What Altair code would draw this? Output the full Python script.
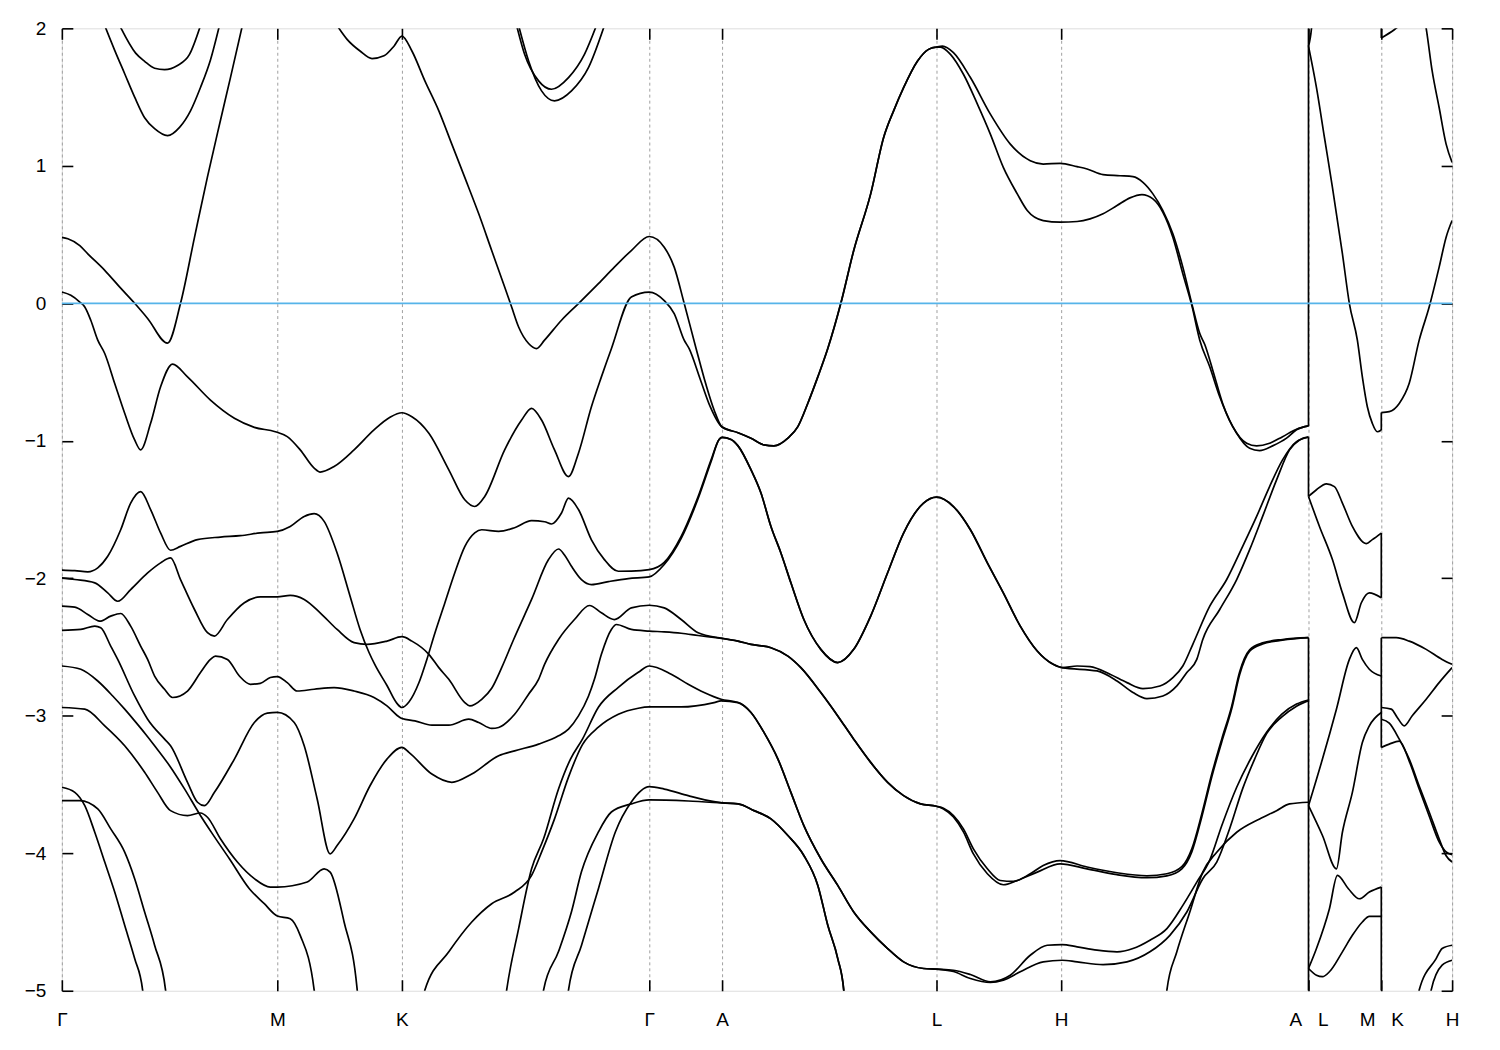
import altair as alt
import pandas as pd

# ---------------- axis data ----------------
K_TICKS = [0, 216, 341, 589, 662, 877, 1002, 1250, 1323, 1394]
K_LABELS = ["Γ", "M", "K", "Γ", "A", "L", "H", "A\u00a0\u00a0\u00a0L", "M\u00a0\u00a0\u00a0K", "H"]
E_TICKS = [2, 1, 0, -1, -2, -3, -4, -5]
K_MAX = 1394

# ---------------- band data (k along path, energy in eV) ----------------
U1 = [(58, 2.02), (74, 1.82), (83, 1.76), (93, 1.71), (103, 1.70), (116, 1.73), (128, 1.81), (139, 2.02)]
U2 = [(43, 2.02), (53, 1.84), (63, 1.67), (73, 1.50), (83, 1.35), (93, 1.27), (106, 1.22), (118, 1.28),
      (129, 1.40), (139, 1.57), (149, 1.77), (158, 2.02)]
V1 = [(0, 0.48), (6, 0.47), (18, 0.42), (26, 0.36), (43, 0.24), (59, 0.11), (73, 0.0), (86, -0.11),
      (106, -0.29), (119, 0.0), (133, 0.48), (146, 0.92), (159, 1.33), (169, 1.64), (181, 2.02)]
UA = [(456, 2.02), (464, 1.811), (478, 1.618), (491, 1.557), (508, 1.642), (524, 1.811), (536, 2.02)]
UB = [(458, 2.02), (468, 1.763), (481, 1.545), (494, 1.473), (511, 1.545), (528, 1.714), (544, 2.02)]

KTOP_MKG = [(276, 2.02), (286, 1.92), (299, 1.835), (311, 1.78), (323, 1.80), (333, 1.87), (341, 1.944),
            (351, 1.835), (364, 1.618), (378, 1.40), (391, 1.158), (404, 0.916), (418, 0.651), (431, 0.384),
            (444, 0.118), (451, -0.027), (458, -0.172), (468, -0.292), (476, -0.329), (484, -0.268),
            (501, -0.123), (518, -0.002), (538, 0.143), (554, 0.263), (571, 0.384), (589, 0.486),
            (604, 0.408), (614, 0.263), (624, 0.0), (636, -0.33), (646, -0.595), (654, -0.776), (662, -0.90)]
AL_UPPER = [(678, -0.941), (691, -0.981), (704, -1.03), (714, -1.037), (728, -0.981), (738, -0.897),
            (748, -0.727), (758, -0.535), (768, -0.329), (781, -0.002), (794, 0.384), (811, 0.796),
            (824, 1.206), (834, 1.40), (844, 1.569), (858, 1.763), (869, 1.847), (877, 1.864)]
LHA_UP1 = [(881, 1.864), (891, 1.811), (904, 1.666), (918, 1.449), (931, 1.231), (944, 0.989), (958, 0.796),
           (968, 0.675), (984, 0.602), (1001, 0.59), (1018, 0.595), (1031, 0.614), (1044, 0.651), (1058, 0.711),
           (1071, 0.767), (1083, 0.791), (1094, 0.759), (1104, 0.662), (1114, 0.481), (1124, 0.215),
           (1133, -0.015), (1141, -0.268), (1151, -0.462), (1161, -0.68), (1174, -0.897), (1188, -1.018),
           (1198, -1.037), (1211, -1.018), (1224, -0.97), (1238, -0.916), (1250, -0.892)]
W_GKGA = [(0, 0.082), (9, 0.058), (18, 0.009), (23, -0.027), (29, -0.123), (36, -0.268), (43, -0.365),
          (53, -0.583), (63, -0.80), (73, -0.994), (79, -1.066), (89, -0.873), (99, -0.607), (111, -0.442),
          (126, -0.535), (149, -0.704), (173, -0.836), (193, -0.902), (214, -0.934), (226, -0.97), (239, -1.066),
          (253, -1.199), (259, -1.228), (273, -1.187), (293, -1.066), (313, -0.921), (329, -0.829), (341, -0.796),
          (351, -0.825), (368, -0.945), (388, -1.211), (404, -1.429), (414, -1.478), (424, -1.405), (444, -1.066),
          (461, -0.849), (471, -0.764), (481, -0.849), (494, -1.066), (508, -1.26), (518, -1.09), (531, -0.752),
          (541, -0.535), (551, -0.33), (571, 0.046), (589, 0.082), (604, 0.02), (614, -0.075), (624, -0.268),
          (629, -0.33), (640, -0.55), (650, -0.75), (662, -0.90)]
LHA_UP2 = [(883, 1.871), (894, 1.823), (911, 1.642), (931, 1.376), (951, 1.158), (971, 1.037), (984, 1.013),
           (1001, 1.018), (1018, 0.994), (1028, 0.977), (1044, 0.936), (1061, 0.928), (1074, 0.921), (1084, 0.88),
           (1094, 0.796), (1104, 0.675), (1114, 0.506), (1124, 0.263), (1133, -0.002), (1141, -0.22),
           (1146, -0.30), (1154, -0.486), (1164, -0.73), (1178, -0.945), (1191, -1.054), (1201, -1.071),
           (1214, -1.037), (1228, -0.981), (1238, -0.92), (1250, -0.892)]

L1_GMK = [(0, -1.94), (13, -1.944), (26, -1.953), (36, -1.924), (46, -1.84), (59, -1.647), (69, -1.453),
          (79, -1.369), (89, -1.50), (99, -1.67), (109, -1.796), (119, -1.768), (136, -1.719), (159, -1.70),
          (179, -1.69), (199, -1.67), (216, -1.659), (229, -1.623), (243, -1.55), (253, -1.53), (263, -1.586),
          (276, -1.816), (289, -2.13), (299, -2.372), (308, -2.54), (314, -2.63), (326, -2.78), (336, -2.91),
          (341, -2.94)]
L1_KGA = [(348, -2.90), (358, -2.76), (366, -2.59), (374, -2.40), (384, -2.18), (394, -1.96), (404, -1.77),
          (414, -1.67), (421, -1.647), (438, -1.659), (454, -1.632), (471, -1.581), (484, -1.589), (491, -1.605),
          (501, -1.525), (508, -1.417), (518, -1.50), (531, -1.72), (544, -1.864), (558, -1.949), (571, -1.948),
          (589, -1.937), (604, -1.884), (621, -1.695), (638, -1.405), (651, -1.139), (659, -0.99), (662, -0.975)]
L2_GMK = [(0, -1.997), (13, -2.009), (33, -2.033), (46, -2.106), (56, -2.167), (69, -2.082), (86, -1.961),
          (99, -1.888), (109, -1.852), (119, -2.009), (133, -2.227), (146, -2.396), (153, -2.42), (166, -2.30),
          (183, -2.178), (199, -2.135), (216, -2.135), (229, -2.125), (243, -2.154), (259, -2.251), (276, -2.372),
          (293, -2.468), (306, -2.481), (326, -2.457), (341, -2.425)]
L2_KGA = [(351, -2.457), (368, -2.553), (378, -2.65), (388, -2.735), (404, -2.904), (409, -2.928), (421, -2.88),
          (431, -2.80), (441, -2.65), (453, -2.445), (471, -2.154), (488, -1.864), (498, -1.787), (504, -1.83),
          (511, -1.913), (521, -2.01), (531, -2.046), (548, -2.024), (568, -2.002), (589, -1.99),
          (604, -1.90), (621, -1.71), (638, -1.42), (651, -1.15), (659, -0.99), (662, -0.975)]
AL_MID = [(671, -0.99), (678, -1.037), (691, -1.211), (701, -1.38), (711, -1.623), (721, -1.816), (731, -2.033),
          (744, -2.30), (761, -2.517), (778, -2.613), (794, -2.517), (811, -2.275), (828, -1.96), (844, -1.671),
          (864, -1.453), (877, -1.41)]
LH_MID = [(894, -1.478), (911, -1.647), (928, -1.888), (944, -2.106), (961, -2.348), (978, -2.529),
          (994, -2.626), (1003, -2.65)]
HA_MID1 = [(1018, -2.638), (1031, -2.643), (1051, -2.698), (1068, -2.759), (1084, -2.802), (1101, -2.783),
           (1114, -2.722), (1124, -2.638), (1134, -2.48), (1151, -2.203), (1168, -2.009), (1184, -1.768),
           (1198, -1.55), (1211, -1.333), (1224, -1.139), (1238, -1.006), (1250, -0.974)]
HA_MID2 = [(1038, -2.674), (1058, -2.747), (1074, -2.831), (1088, -2.875), (1104, -2.856), (1118, -2.783),
           (1128, -2.686), (1138, -2.59), (1144, -2.445), (1161, -2.227), (1178, -2.009), (1191, -1.792),
           (1204, -1.55), (1218, -1.284), (1231, -1.066), (1241, -0.994), (1250, -0.972)]

L3_GMKGA = [(0, -2.203), (13, -2.21), (26, -2.263), (38, -2.312), (49, -2.275), (59, -2.256), (69, -2.348),
            (79, -2.493), (86, -2.59), (93, -2.711), (103, -2.807), (111, -2.867), (126, -2.82), (139, -2.686),
            (149, -2.59), (154, -2.566), (166, -2.59), (178, -2.711), (189, -2.771), (199, -2.764), (209, -2.722),
            (216, -2.715), (226, -2.759), (236, -2.82), (253, -2.807), (273, -2.795), (293, -2.82), (313, -2.867),
            (326, -2.928), (339, -3.012), (341, -3.02), (354, -3.037), (371, -3.068), (388, -3.068), (408, -3.025),
            (418, -3.049), (431, -3.092), (438, -3.085), (454, -2.989), (468, -2.843), (478, -2.735), (484, -2.626),
            (498, -2.445), (514, -2.30), (529, -2.198), (541, -2.251), (554, -2.30), (571, -2.215), (589, -2.196),
            (604, -2.215), (621, -2.30), (638, -2.396), (662, -2.437)]
C_GMKGA = [(0, -2.379), (19, -2.372), (33, -2.348), (39, -2.36), (49, -2.493), (56, -2.59), (73, -2.856),
           (86, -3.025), (103, -3.17), (109, -3.218), (126, -3.484), (136, -3.629), (143, -3.654), (153, -3.557),
           (173, -3.315), (193, -3.049), (206, -2.981), (216, -2.976), (233, -3.049), (243, -3.218), (256, -3.605),
           (269, -4.004), (276, -3.944), (293, -3.75), (309, -3.509), (326, -3.315), (341, -3.23), (348, -3.266),
           (371, -3.424), (391, -3.484), (411, -3.424), (438, -3.291), (454, -3.255), (478, -3.206), (498, -3.146),
           (508, -3.097), (518, -3.001), (528, -2.858), (534, -2.735), (541, -2.553), (551, -2.372), (556, -2.336),
           (571, -2.372), (589, -2.384), (604, -2.39), (621, -2.40), (638, -2.416), (662, -2.437)]
AL_L3 = [(678, -2.457), (691, -2.481), (711, -2.505), (728, -2.566), (741, -2.65), (761, -2.831), (778, -3.001),
         (794, -3.17), (811, -3.339), (828, -3.484), (844, -3.581), (861, -3.641), (877, -3.658)]
LH_A = [(884, -3.673), (894, -3.726), (904, -3.823), (914, -3.968), (928, -4.113), (941, -4.198), (954, -4.205),
        (971, -4.149), (984, -4.089), (1001, -4.053)]
LH_B = [(884, -3.678), (894, -3.736), (904, -3.845), (914, -4.005), (928, -4.149), (944, -4.229), (958, -4.198),
        (978, -4.137), (1001, -4.077)]
HA_A = [(1028, -4.10), (1058, -4.142), (1088, -4.164), (1108, -4.149), (1123, -4.098), (1133, -3.968),
        (1143, -3.714), (1153, -3.424), (1163, -3.17), (1173, -2.93), (1181, -2.68), (1191, -2.52), (1204, -2.47),
        (1224, -2.445), (1250, -2.432)]
HA_B = [(1028, -4.113), (1058, -4.156), (1088, -4.178), (1108, -4.164), (1123, -4.113), (1133, -3.99),
        (1143, -3.736), (1153, -3.445), (1163, -3.19), (1173, -2.95), (1181, -2.70), (1191, -2.53), (1204, -2.478),
        (1224, -2.45), (1250, -2.432)]

E_GM = [(0, -2.638), (19, -2.662), (36, -2.747), (51, -2.856), (63, -2.952), (73, -3.037), (84, -3.134),
        (93, -3.218), (108, -3.363), (123, -3.532), (138, -3.714), (151, -3.859), (168, -4.04), (188, -4.258),
        (203, -4.367), (216, -4.456), (229, -4.476), (239, -4.597), (253, -4.995), (256, -5.2)]
E_KGA = [(444, -5.1), (446, -4.995), (458, -4.548), (471, -4.113), (483, -3.895), (498, -3.532), (510, -3.315),
         (522, -3.17), (538, -2.938), (558, -2.793), (578, -2.684), (589, -2.638), (611, -2.698), (628, -2.771),
         (644, -2.831), (661, -2.88)]
F_GM = [(0, -2.94), (23, -2.952), (43, -3.073), (63, -3.218), (83, -3.411), (96, -3.557), (109, -3.69),
        (126, -3.726), (139, -3.707), (146, -3.738), (159, -3.895), (176, -4.064), (193, -4.185), (209, -4.246),
        (216, -4.246), (246, -4.209), (263, -4.113), (269, -4.137), (283, -4.50), (296, -4.983), (298, -5.15)]
F_KGA = [(362, -5.15), (364, -4.995), (388, -4.717), (411, -4.50), (431, -4.367), (454, -4.282), (471, -4.161),
         (481, -3.992), (494, -3.75), (508, -3.446), (522, -3.21), (538, -3.083), (558, -2.989), (578, -2.945),
         (589, -2.936), (621, -2.936), (654, -2.904), (661, -2.892)]
AL_E = [(678, -2.904), (691, -2.976), (704, -3.121), (718, -3.315), (731, -3.557), (744, -3.799), (761, -4.04),
        (778, -4.234), (794, -4.427), (811, -4.572), (828, -4.693), (844, -4.79), (864, -4.838), (877, -4.843)]
LH_C = [(894, -4.851), (911, -4.882), (931, -4.935), (951, -4.887), (971, -4.742), (988, -4.669), (1003, -4.664)]
LH_D = [(894, -4.86), (911, -4.911), (931, -4.94), (944, -4.923), (961, -4.862), (984, -4.79), (1003, -4.778)]
HA_C = [(1018, -4.681), (1038, -4.705), (1058, -4.717), (1074, -4.693), (1091, -4.632), (1108, -4.548),
        (1124, -4.379), (1138, -4.21), (1151, -4.05), (1163, -3.80), (1178, -3.52), (1193, -3.30), (1208, -3.12),
        (1223, -2.99), (1238, -2.915), (1250, -2.885)]
HA_D = [(1018, -4.79), (1044, -4.81), (1068, -4.79), (1091, -4.717), (1111, -4.597), (1128, -4.427),
        (1144, -4.185), (1158, -4.064), (1171, -3.82), (1184, -3.53), (1196, -3.315), (1208, -3.13), (1223, -3.01),
        (1238, -2.93), (1250, -2.89)]

G_GM = [(0, -3.52), (13, -3.557), (23, -3.654), (33, -3.847), (43, -4.064), (53, -4.282), (63, -4.524),
        (73, -4.766), (81, -4.995), (82, -5.1)]
G_KGA = [(507, -5.1), (508, -4.995), (521, -4.671), (538, -4.258), (555, -3.845), (571, -3.627), (589, -3.516),
         (604, -3.533), (628, -3.581), (654, -3.625), (662, -3.634)]
H_GM = [(0, -3.617), (18, -3.617), (36, -3.678), (49, -3.823), (63, -3.992), (73, -4.185), (83, -4.427),
        (93, -4.669), (104, -4.995), (105, -5.1)]
H_KGA = [(482, -5.1), (483, -4.995), (498, -4.715), (511, -4.425), (521, -4.135), (538, -3.845), (551, -3.70),
         (571, -3.641), (589, -3.612), (628, -3.62), (662, -3.634)]
AL_G = [(678, -3.641), (694, -3.69), (711, -3.75), (728, -3.871), (744, -4.016), (758, -4.234), (768, -4.524),
        (778, -4.766), (784, -4.995), (785, -5.1)]
HA_LOW = [(1107, -5.1), (1108, -4.995), (1118, -4.717), (1131, -4.427), (1144, -4.137), (1158, -3.992),
          (1178, -3.847), (1201, -3.75), (1218, -3.69), (1231, -3.641), (1250, -3.629)]

# L - M segment
LM1 = [(1250, 1.871), (1253, 2.0), (1254, 2.09)]
LM2 = [(1250, 1.871), (1258, 1.569), (1266, 1.206), (1274, 0.844), (1284, 0.361), (1291, -0.002), (1299, -0.268),
       (1304, -0.535), (1309, -0.752), (1314, -0.873), (1319, -0.934), (1323, -0.921)]
LM3 = [(1250, -1.405), (1258, -1.356), (1268, -1.313), (1276, -1.333), (1284, -1.453), (1294, -1.623),
       (1308, -1.748), (1314, -1.719), (1323, -1.671)]
LM4 = [(1250, -1.405), (1261, -1.623), (1274, -1.864), (1284, -2.106), (1296, -2.323), (1303, -2.178),
       (1311, -2.106), (1323, -2.142)]
LM5 = [(1250, -3.654), (1264, -3.315), (1278, -2.952), (1291, -2.59), (1298, -2.505), (1304, -2.59),
       (1311, -2.662), (1323, -2.711)]
LM6 = [(1250, -3.654), (1264, -3.871), (1278, -4.113), (1284, -3.847), (1294, -3.557), (1304, -3.194),
       (1311, -3.073), (1323, -2.976)]
LM7 = [(1250, -4.838), (1258, -4.693), (1271, -4.403), (1279, -4.161), (1290, -4.258), (1301, -4.331),
       (1311, -4.282), (1323, -4.246)]
LM8 = [(1250, -4.838), (1258, -4.887), (1264, -4.898), (1271, -4.862), (1284, -4.717), (1294, -4.597),
       (1304, -4.50), (1311, -4.459), (1323, -4.459)]

# K - H segment
KH1 = [(1323, 1.93), (1336, 1.99), (1343, 2.03)]
KH2 = [(1365, 2.12), (1368, 2.0), (1374, 1.69), (1381, 1.424), (1388, 1.158), (1394, 1.025)]
KH3 = [(1323, -0.795), (1331, -0.788), (1341, -0.728), (1351, -0.582), (1361, -0.268), (1371, -0.027),
       (1381, 0.263), (1388, 0.481), (1394, 0.602)]
KH4 = [(1323, -2.432), (1338, -2.432), (1351, -2.457), (1368, -2.517), (1384, -2.59), (1394, -2.626)]
KH5 = [(1323, -2.94), (1333, -2.952), (1339, -3.012), (1346, -3.073), (1354, -3.0), (1368, -2.88), (1381, -2.759),
       (1394, -2.65)]
KH6 = [(1323, -3.025), (1331, -3.054), (1341, -3.17), (1351, -3.315), (1361, -3.511), (1371, -3.70),
       (1381, -3.895), (1388, -4.018), (1394, -4.064)]
KH7 = [(1323, -3.23), (1331, -3.206), (1341, -3.184), (1351, -3.33), (1361, -3.533), (1371, -3.729),
       (1381, -3.917), (1388, -3.99), (1394, -4.011)]
KH8 = [(1360, -5.1), (1361, -4.995), (1378, -4.766), (1384, -4.693), (1394, -4.669)]
KH9 = [(1372, -5.1), (1373, -4.995), (1384, -4.814), (1394, -4.778)]

# vertical jumps at the path discontinuities (A|L and M|K)
JUMP_K = [1250, 1250, 1250, 1323, 1323, 1323, 1323, 1323]
JUMP_LOW = [-0.892, -1.405, -5.0, 1.93, -0.921, -2.142, -3.23, -5.0]
JUMP_HIGH = [2.0, -0.974, -2.432, 2.0, -0.795, -1.671, -2.432, -4.246]

# ---------------- assemble ----------------
BANDS = {
    "u1": U1, "u2": U2, "v1": V1, "ua": UA, "ub": UB,
    "ktop": KTOP_MKG + AL_UPPER + LHA_UP1,
    "w": W_GKGA + AL_UPPER + LHA_UP2,
    "l1": L1_GMK + L1_KGA + AL_MID + LH_MID + HA_MID1,
    "l2": L2_GMK + L2_KGA + AL_MID + LH_MID + HA_MID2,
    "l3": L3_GMKGA + AL_L3 + LH_A + HA_A,
    "c": C_GMKGA + AL_L3 + LH_B + HA_B,
    "e1": E_GM, "e2": E_KGA + AL_E + LH_C + HA_C,
    "f1": F_GM, "f2": F_KGA + AL_E + LH_D + HA_D,
    "g1": G_GM, "g2": G_KGA + AL_G,
    "h1": H_GM, "h2": H_KGA + AL_G,
    "halow": HA_LOW,
    "lm1": LM1, "lm2": LM2, "lm3": LM3, "lm4": LM4, "lm5": LM5, "lm6": LM6, "lm7": LM7, "lm8": LM8,
    "kh1": KH1, "kh2": KH2, "kh3": KH3, "kh4": KH4, "kh5": KH5, "kh6": KH6, "kh7": KH7, "kh8": KH8, "kh9": KH9,
}
rows = []
for name, pts in BANDS.items():
    for k, e in pts:
        rows.append({"band": name, "k": k, "E": e})
df = pd.DataFrame(rows)
jdf = pd.DataFrame({"k": JUMP_K, "lo": JUMP_LOW, "hi": JUMP_HIGH})
fdf = pd.DataFrame({"k0": [0], "k1": [K_MAX], "E": [0.0]})

W_PLOT, H_PLOT = 1394, 965
FONT = "Liberation Sans"
LW = 1.7
xs = alt.Scale(domain=[0, K_MAX], nice=False, zero=False)
ys = alt.Scale(domain=[-5, 2], nice=False, zero=False)

label_expr = " : ".join(f"datum.value == {v} ? '{t}'" for v, t in zip(K_TICKS, K_LABELS)) + " : ''"

bands = alt.Chart(df).mark_line(color="black", strokeWidth=LW, clip=True, interpolate="monotone").encode(
    x=alt.X("k:Q", scale=xs, axis=alt.Axis(values=K_TICKS, labelExpr=label_expr, grid=True, gridDash=[3, 3],
                                          gridColor="#a0a0a0", gridWidth=1, ticks=False, tickSize=0, domain=False,
                                          labelFontSize=19, labelPadding=20, labelFont=FONT, labelColor="black",
                                          labelFlush=False, labelOverlap=False, title=None)),
    y=alt.Y("E:Q", scale=ys, axis=alt.Axis(values=E_TICKS, grid=False, ticks=False, tickSize=0, domain=False,
                                          labelFontSize=19, labelPadding=16, labelFont=FONT, labelColor="black",
                                          labelFlush=False, labelOverlap=False, title=None)),
    detail="band:N",
)

tick_axis = dict(labels=False, ticks=True, tickSize=11, tickColor="black", tickWidth=1.6, domain=False,
                 grid=False, title=None)

jumps = alt.Chart(jdf).mark_rule(color="black", strokeWidth=LW, clip=True).encode(
    x=alt.X("k:Q", scale=xs, axis=alt.Axis(orient="top", offset=-H_PLOT, values=K_TICKS, **tick_axis)),
    y=alt.Y("lo:Q", scale=ys, axis=alt.Axis(orient="right", offset=-W_PLOT, values=E_TICKS, **tick_axis)),
    y2="hi:Q",
)

fermi = alt.Chart(fdf).mark_rule(color="#56B4E9", strokeWidth=1.8).encode(
    x=alt.X("k0:Q", scale=xs, axis=alt.Axis(orient="bottom", offset=-H_PLOT, values=K_TICKS, **tick_axis)),
    x2="k1:Q",
    y=alt.Y("E:Q", scale=ys, axis=alt.Axis(orient="left", offset=-W_PLOT, values=E_TICKS, **tick_axis)),
)

chart = alt.layer(bands, jumps, fermi).resolve_axis(x="independent", y="independent").properties(
    width=W_PLOT, height=H_PLOT,
    autosize=alt.AutoSizeParams(type="none"),
    padding={"left": 54, "top": 19, "right": 40, "bottom": 50},
).configure_view(stroke="black", strokeWidth=1.8).configure(background="white")

chart.save("out.html", embed_options={"renderer": "svg", "actions": False})
